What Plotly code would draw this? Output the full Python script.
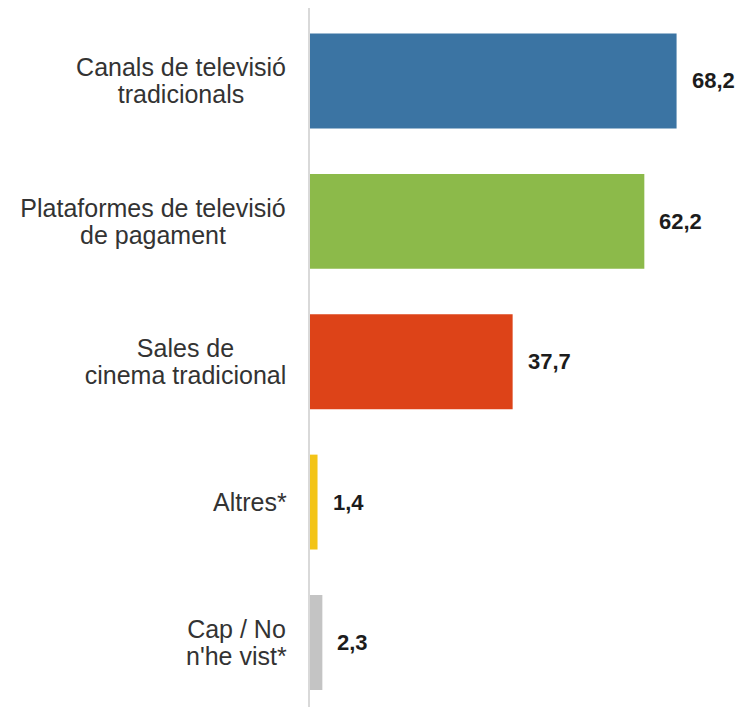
import plotly.graph_objects as go

# Data
categories = ["Canals de televisió<br>tradicionals",
              "Plataformes de televisió<br>de pagament",
              "Sales de<br>cinema tradicional",
              "Altres*",
              "Cap / No<br>n'he vist*"]
values = [68.2, 62.2, 37.7, 1.4, 2.3]
colors = ["#3b74a3", "#8cba4a", "#dd4318", "#f3c417", "#c4c4c4"]

pos = list(range(len(categories)))

fig = go.Figure()
fig.add_trace(go.Bar(x=values, y=pos, orientation='h',
                     width=0.676,
                     marker=dict(color=colors, line=dict(width=0)),
                     hoverinfo='skip'))

# value labels to the right of bars
for p, v in zip(pos, values):
    fig.add_annotation(x=v, y=p, xref='x', yref='y',
                       text='<b>{}</b>'.format(('%.1f' % v).replace('.', ',')),
                       showarrow=False, xanchor='left', xshift=13,
                       font=dict(family='Liberation Sans, Arial', size=22, color='#1c1c1c'))

# category labels: one annotation per line so the line spacing can be tighter.
# every line of a label gets the same box width -> lines centred on each other
line_gap = 27
box_w = [212, 268, 203, None, 101]   # approx. width of longest line, px
for p, c, w in zip(pos, categories, box_w):
    lines = c.split('<br>')
    n = len(lines)
    for i, ln in enumerate(lines):
        fig.add_annotation(x=0, y=p, xref='paper', yref='y',
                           text=ln, showarrow=False, xanchor='right', align='center',
                           width=w, borderpad=0,
                           xshift=-22, yshift=((n - 1) / 2 - i) * line_gap,
                           font=dict(family='Liberation Sans, Arial', size=25, color='#333333'))

# page body adds 8px margin, so the figure is a bit smaller
fig.update_layout(width=736, height=699,
                  margin=dict(l=302, r=4, t=0, b=0),
                  plot_bgcolor='white', paper_bgcolor='white',
                  showlegend=False)
fig.update_xaxes(range=[0, 80], visible=False)
fig.update_yaxes(range=[4.46, -0.52], showticklabels=False, showgrid=False,
                 zeroline=False, showline=True, linecolor='#d9d9d9', linewidth=2)

fig.write_html("out.html")
